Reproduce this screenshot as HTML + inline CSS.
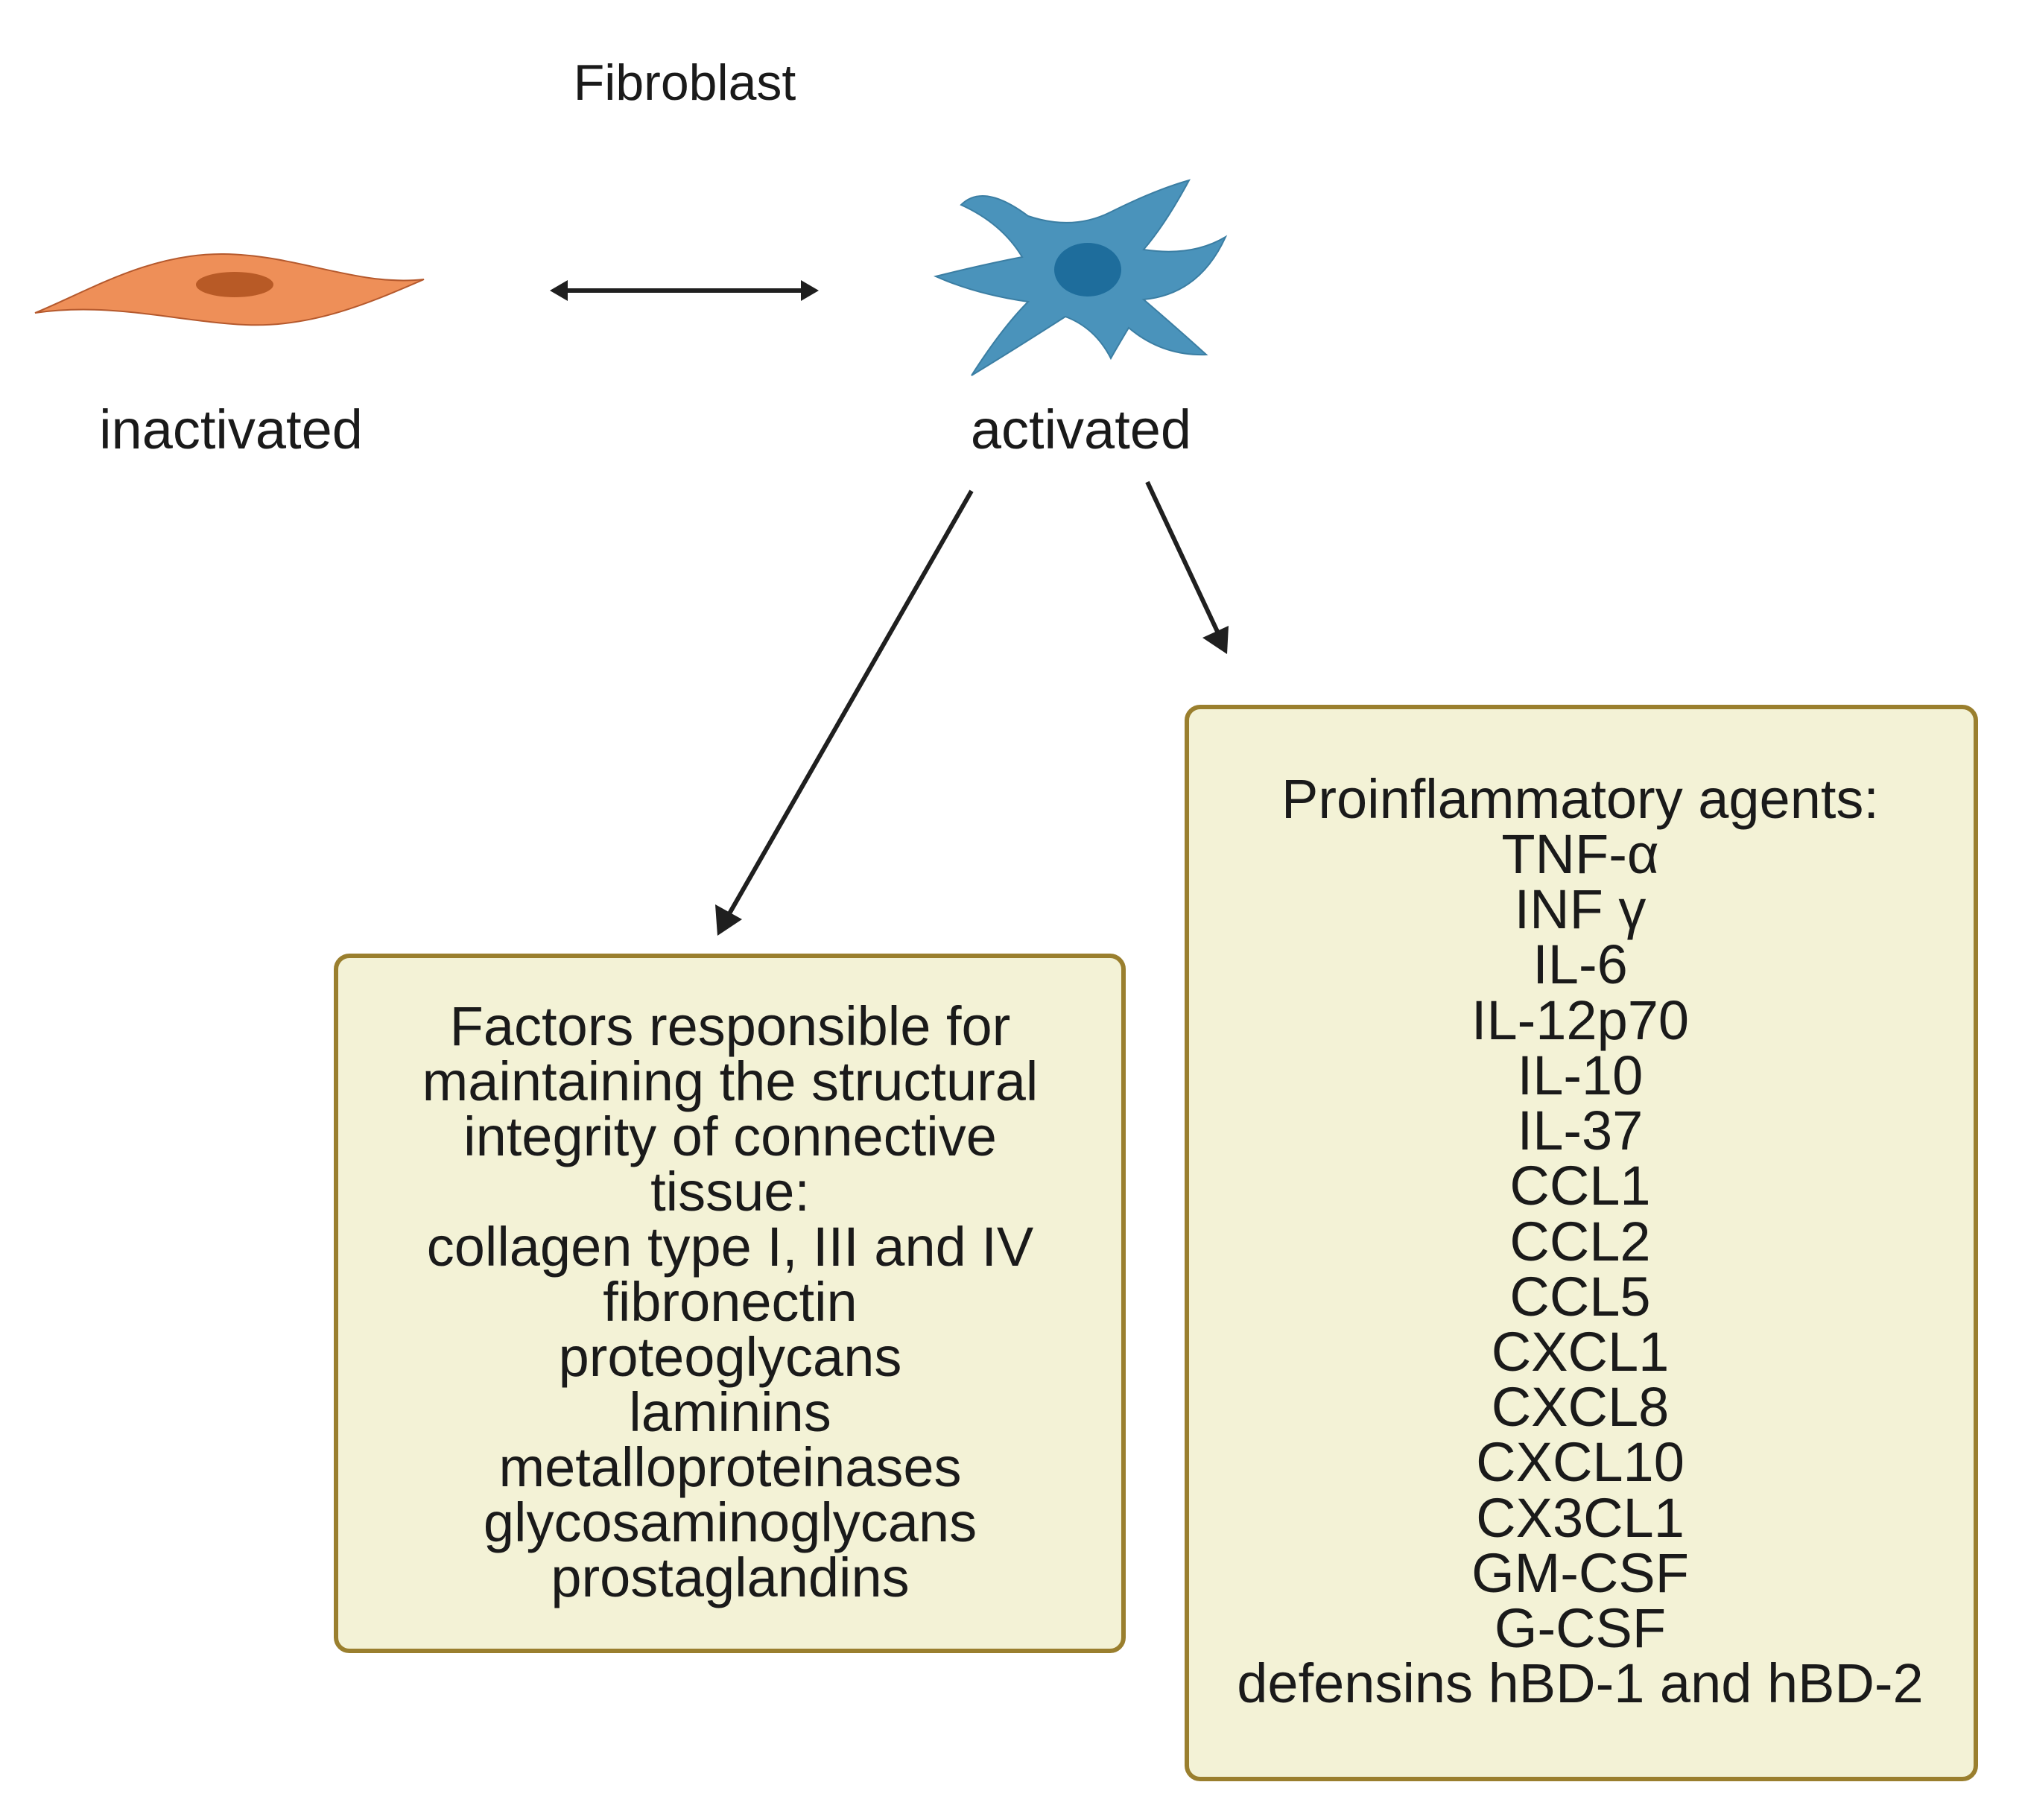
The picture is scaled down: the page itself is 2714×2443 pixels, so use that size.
<!DOCTYPE html>
<html><head><meta charset="utf-8"><style>
html,body{margin:0;padding:0;background:#fff;}
svg{display:block;}
text{font-family:"Liberation Sans",sans-serif;fill:#1a1a1a;}
</style></head><body>
<svg width="2714" height="2443" viewBox="0 0 2714 2443" xmlns="http://www.w3.org/2000/svg">
<text x="919" y="134" font-size="68" text-anchor="middle">Fibroblast</text>

<!-- inactivated cell -->
<path d="M47 420 C120 390 200 340 300 341 C400 342 480 385 569 375 C500 405 420 440 330 436 C240 432 150 405 47 420 Z" fill="#ee8f58" stroke="#b5592d" stroke-width="2"/>
<ellipse cx="315" cy="382" rx="52" ry="17" fill="#b85a26"/>

<!-- double arrow -->
<line x1="755" y1="390" x2="1082" y2="390" stroke="#1f1f1f" stroke-width="6"/>
<polygon points="738,390 762,376 762,404" fill="#1f1f1f"/>
<polygon points="1099,390 1075,376 1075,404" fill="#1f1f1f"/>

<!-- activated cell -->
<path d="M1290 275 Q1320 245 1380 290 Q1440 310 1490 285 Q1550 255 1596 242 Q1565 300 1535 335 Q1600 345 1645 318 Q1610 395 1535 402 Q1585 445 1619 476 Q1560 478 1515 440 Q1500 465 1491 481 Q1470 440 1430 425 Q1360 470 1304 504 Q1345 440 1380 405 Q1310 395 1256 371 Q1320 355 1372 345 Q1345 300 1290 275 Z" fill="#4a93bb" stroke="#3b7ea3" stroke-width="2"/>
<ellipse cx="1460" cy="362" rx="45" ry="36" fill="#1e6d9c"/>

<text x="310" y="602" font-size="74" text-anchor="middle">inactivated</text>
<text x="1451" y="602" font-size="74" text-anchor="middle">activated</text>

<!-- arrows -->
<line x1="1304" y1="659" x2="978" y2="1228" stroke="#1f1f1f" stroke-width="6"/>
<polygon points="963,1256 960,1214 996,1234" fill="#1f1f1f"/>
<line x1="1540" y1="647" x2="1636" y2="852" stroke="#1f1f1f" stroke-width="6"/>
<polygon points="1647,878 1614,856 1649,840" fill="#1f1f1f"/>

<!-- boxes -->
<rect x="451" y="1283" width="1057" height="933" rx="18" fill="#f3f2d6" stroke="#9a7f2e" stroke-width="6"/>
<rect x="1593" y="949" width="1059" height="1439" rx="18" fill="#f3f2d6" stroke="#9a7f2e" stroke-width="6"/>

<g font-size="74" text-anchor="middle">
<text x="980" y="1403">Factors responsible for</text>
<text x="980" y="1477">maintaining the structural</text>
<text x="980" y="1551">integrity of connective</text>
<text x="980" y="1625">tissue:</text>
<text x="980" y="1699">collagen type I, III and IV</text>
<text x="980" y="1773">fibronectin</text>
<text x="980" y="1847">proteoglycans</text>
<text x="980" y="1921">laminins</text>
<text x="980" y="1995">metalloproteinases</text>
<text x="980" y="2069">glycosaminoglycans</text>
<text x="980" y="2143">prostaglandins</text>
</g>
<g font-size="74" text-anchor="middle">
<text x="2121" y="1098">Proinflammatory agents:</text>
<text x="2121" y="1172">TNF-α</text>
<text x="2121" y="1246">INF γ</text>
<text x="2121" y="1320">IL-6</text>
<text x="2121" y="1395">IL-12p70</text>
<text x="2121" y="1469">IL-10</text>
<text x="2121" y="1543">IL-37</text>
<text x="2121" y="1617">CCL1</text>
<text x="2121" y="1692">CCL2</text>
<text x="2121" y="1766">CCL5</text>
<text x="2121" y="1840">CXCL1</text>
<text x="2121" y="1914">CXCL8</text>
<text x="2121" y="1988">CXCL10</text>
<text x="2121" y="2063">CX3CL1</text>
<text x="2121" y="2137">GM-CSF</text>
<text x="2121" y="2211">G-CSF</text>
<text x="2121" y="2285">defensins hBD-1 and hBD-2</text>
</g>
</svg>
</body></html>
